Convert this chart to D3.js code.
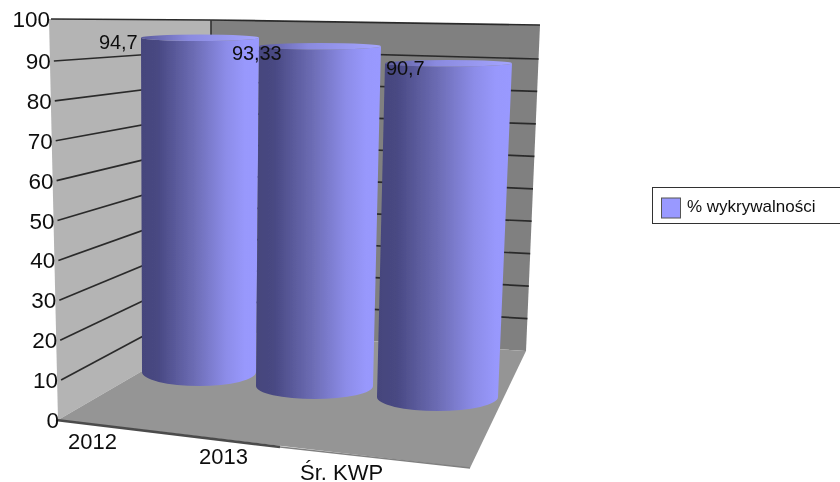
<!DOCTYPE html>
<html><head><meta charset="utf-8">
<script src="https://cdn.jsdelivr.net/npm/d3@7"></script>
<style>html,body{margin:0;padding:0;background:#fff;overflow:hidden}svg{display:block}text{font-family:"Liberation Sans",Arial,sans-serif;fill:#111}</style>
</head><body><svg id="c" width="840" height="482"></svg>
<script>
const categories = ["2012", "2013", "Śr. KWP"];
const values = [94.7, 93.33, 90.7];
const valueLabels = ["94,7", "93,33", "90,7"];
const yTicks = [0, 10, 20, 30, 40, 50, 60, 70, 80, 90, 100];
const seriesName = "% wykrywalności";

const svg = d3.select("#c");
const defs = svg.append("defs");
const soft = defs.append("filter").attr("id","soft").attr("x","-5%").attr("y","-5%").attr("width","110%").attr("height","110%");
soft.append("feGaussianBlur").attr("stdDeviation",0.45);
const grad = defs.append("linearGradient").attr("id","cyl");
[[0,"#45457c"],[0.14,"#484882"],[0.45,"#6c6cb4"],[0.72,"#8c8ce8"],[0.88,"#9898fc"],[1,"#9999ff"]]
  .forEach(s=>grad.append("stop").attr("offset",s[0]).attr("stop-color",s[1]));
const tg = defs.append("linearGradient").attr("id","cyltop");
[[0,"#5a5a9c"],[0.4,"#8a8adf"],[1,"#a5a5ff"]].forEach(s=>tg.append("stop").attr("offset",s[0]).attr("stop-color",s[1]));

const g = svg.append("g").attr("filter","url(#soft)");

// perspective edges of the chart box, each one a value scale
const domainY = [0, 90, 100];
const frontY = d3.scaleLinear().domain(domainY).range([420, 61, 19]);
const frontX = d3.scaleLinear().domain([0, 100]).range([58, 49]);
const cornerY = d3.scaleLinear().domain(domainY).range([331, 50, 20]);
const cornerX = () => 211;
const rightY = d3.scaleLinear().domain(domainY).range([351, 59, 25]);
const rightX = d3.scaleLinear().domain([0, 100]).range([526, 540]);

const poly = (pts,fill)=>g.append("polygon").attr("points",pts.map(p=>p.join(",")).join(" ")).attr("fill",fill);
// left wall, back wall, floor
poly([[frontX(100),frontY(100)],[211,cornerY(100)],[211,cornerY(0)],[frontX(0),frontY(0)]],"#b4b4b4");
poly([[211,cornerY(100)],[rightX(100),rightY(100)],[rightX(0),rightY(0)],[211,cornerY(0)]],"#808080");
poly([[frontX(0),frontY(0)],[211,cornerY(0)],[rightX(0),rightY(0)],[470,468]],"#959595");

// gridlines
const line = (a,b,c,w)=>g.append("line").attr("x1",a[0]).attr("y1",a[1]).attr("x2",b[0]).attr("y2",b[1]).attr("stroke",c).attr("stroke-width",w);
yTicks.filter(v=>v>0).forEach(v=>{
  line([frontX(v)+(v===100?2:4),frontY(v)],[211,cornerY(v)],"#2b2b2b",1.7);
  line([211,cornerY(v)],[rightX(v),rightY(v)],"#2b2b2b",1.7);
});
line([211,cornerY(100)],[211,cornerY(85)],"#333",1.6);
line([frontX(0)-2,frontY(0)],[280,447],"#4c4c4c",2.6);
line([280,447],[470,468],"#808080",1.4);

// cylinders
const cyl = [
  {tl:141,tr:259,bl:142,br:256,base:372,ry:14,top:19,rt:3.2},
  {tl:259,tr:381,bl:256,br:373,base:386,ry:13,top:22,rt:3.2},
  {tl:385,tr:512,bl:377,br:498,base:397,ry:14,top:29,rt:3.2}
];
values.forEach((v,i)=>{
  const c = cyl[i];
  const y = d3.scaleLinear().domain([0,100]).range([c.base,c.top]);
  const yt = y(v);
  const rxT=(c.tr-c.tl)/2, rxB=(c.br-c.bl)/2;
  g.append("path").attr("fill","url(#cyl)")
    .attr("d",`M${c.tl},${yt} L${c.bl},${c.base} A${rxB},${c.ry} 0 0 0 ${c.br},${c.base} L${c.tr},${yt} A${rxT},${c.rt} 0 0 1 ${c.tl},${yt} Z`);
  g.append("ellipse").attr("cx",(c.tl+c.tr)/2).attr("cy",yt).attr("rx",rxT).attr("ry",c.rt).attr("fill","url(#cyltop)");
});

// value labels
const labelPos = [[99,49],[232,60],[386,75]];
g.selectAll(".vl").data(valueLabels).join("text").attr("class","vl")
  .attr("x",(d,i)=>labelPos[i][0]).attr("y",(d,i)=>labelPos[i][1])
  .attr("font-size",20).attr("letter-spacing",-0.1).text(d=>d);

// y tick labels
g.selectAll(".yt").data(yTicks).join("text").attr("class","yt")
  .attr("x",d=>frontX(d)+1).attr("y",d=>frontY(d)+8)
  .attr("text-anchor","end").attr("font-size",22.5).text(d=>d);

// category labels
const catPos = [[68,449],[199,464],[300,480]];
g.selectAll(".ct").data(categories).join("text").attr("class","ct")
  .attr("x",(d,i)=>catPos[i][0]).attr("y",(d,i)=>catPos[i][1])
  .attr("font-size",22).text(d=>d);

// legend
g.append("rect").attr("x",652.5).attr("y",187.5).attr("width",195).attr("height",36).attr("fill","#fff").attr("stroke","#333").attr("stroke-width",1);
g.append("rect").attr("x",661.5).attr("y",198).attr("width",19).attr("height",20).attr("fill","#9999ff").attr("stroke","#555").attr("stroke-width",1);
g.append("text").attr("x",687).attr("y",212).attr("font-size",17).text(seriesName);
</script></body></html>
